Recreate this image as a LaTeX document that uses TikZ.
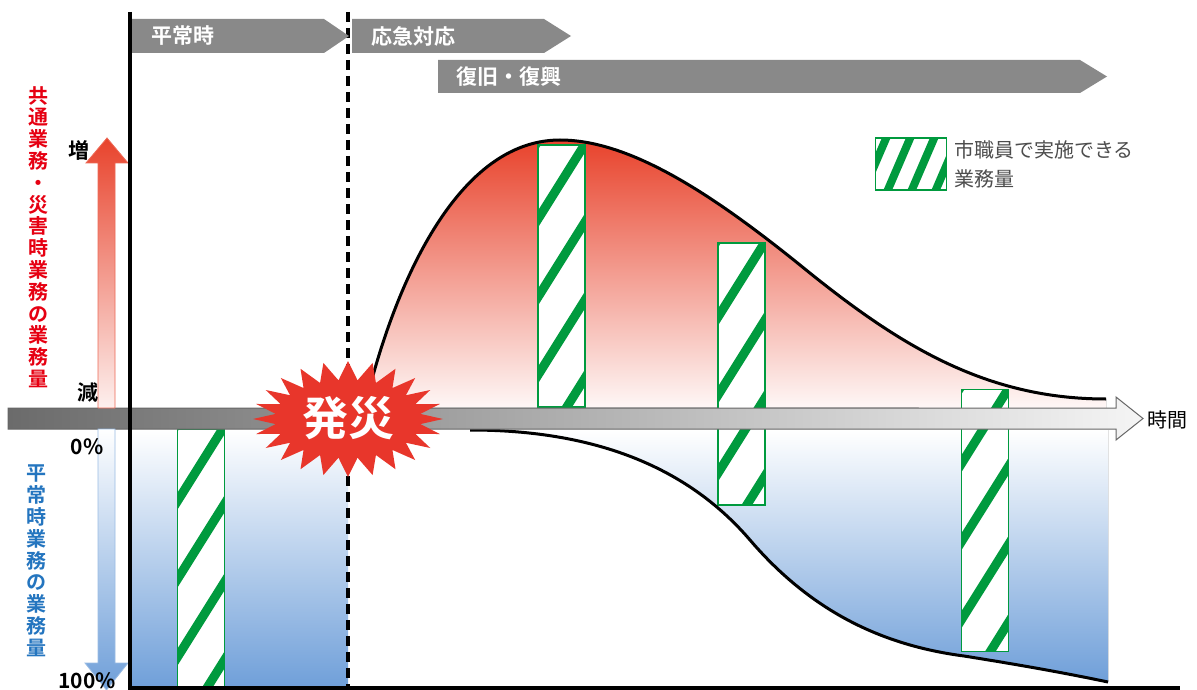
\documentclass[tikz,border=0pt]{standalone}
\usepackage{fontspec}
\setmainfont{Noto Sans CJK JP}[BoldFont={Noto Sans CJK JP Bold}]
\usepackage{tikz}
\usetikzlibrary{positioning}
\usetikzlibrary{calc}

\definecolor{bannergray}{HTML}{898989}
\definecolor{hatchgreen}{HTML}{009A3E}
\definecolor{burstred}{HTML}{E8362B}
\definecolor{curvered}{HTML}{E8432C}
\definecolor{midred}{HTML}{F0946F}
\definecolor{paleblue}{HTML}{6F9FD9}
\definecolor{labelred}{HTML}{E60012}
\definecolor{labelblue}{HTML}{2475BF}
\definecolor{axisgray}{HTML}{6B6B6B}
\definecolor{keygray}{HTML}{4D4D4D}

\begin{document}
\begin{tikzpicture}[x=1pt, y=-1pt,
			hatchbar/.style={draw=hatchgreen, line width=1.4pt, fill=white, inner sep=0pt, minimum width=47pt, minimum height=#1,
				path picture={\foreach \k in {-390,-312,...,312} \draw[hatchgreen, line width=9pt] ($(path picture bounding box.south west)+(-20pt,\k pt)$) -- ++(87pt,139pt);}},
			keybox/.style={draw=hatchgreen, line width=1.4pt, fill=white, inner sep=0pt, minimum width=71pt, minimum height=52pt,
				path picture={\foreach \k in {-40,-16,...,80} \draw[hatchgreen, line width=8pt] ($(path picture bounding box.south west)+(\k pt,-10pt)$) -- ++(31pt,72pt);}},
			bannertext/.style={anchor=west, inner sep=0pt, text=white, font=\bfseries\fontsize{21}{21}\selectfont},
			vlabel/.style={anchor=north, inner sep=0pt, align=center, font=\bfseries\fontsize{20}{21.8}\selectfont},
			scalelabel/.style={inner sep=0pt, font=\bfseries\fontsize{21}{21}\selectfont}
			]
			
			\useasboundingbox (0,0) rectangle (1197,690);
			\clip (0,0) rectangle (1197,690);
			\fill[white] (0,0) rectangle (1197,690);
			
			\coordinate (ytop) at (130,12);
			\coordinate (ybot) at (130,690);
			\coordinate (xend) at (1180,688);
			\coordinate (ontop) at (348,12);
			\coordinate (onbot) at (348,688);
			\coordinate (upstart) at (365,407);
			\coordinate (peak) at (560,140);
			\coordinate (upmid) at (800,265);
			\coordinate (upend) at (1106,399);
			\coordinate (lowstart) at (470,430);
			\coordinate (lowmid) at (750,540);
			\coordinate (lowknee) at (964,656);
			\coordinate (lowend) at (1108,682);
			
			\fill[top color=white, bottom color=paleblue] (130,430) rectangle (348,688);
			\fill[top color=white, bottom color=paleblue] (lowstart) .. controls (600,430) and (690,470) .. (lowmid) .. controls (810,610) and (880,645) .. (lowknee) .. controls (1020,665) and (1060,672) .. (lowend) -- (1108,430) -- cycle;
			\fill[top color=curvered, middle color=midred, bottom color=white!96!curvered] (upstart) .. controls (385,320) and (445,140) .. (peak) .. controls (630,140) and (712,194) .. (upmid) .. controls (898,345) and (985,399) .. (upend) -- (1106,408) -- cycle;
			
			\node[hatchbar=260pt] at (201,559) (bar1) {};
			\node[hatchbar=262pt] at (561.5,276) (bar2) {};
			\node[hatchbar=262pt] at (741.5,374) (bar3) {};
			\node[hatchbar=262pt] at (985,520.5) (bar4) {};
			
			\draw[line width=3pt] (upstart) .. controls (385,320) and (445,140) .. (peak) .. controls (630,140) and (712,194) .. (upmid) .. controls (898,345) and (985,399) .. (upend);
			\draw[line width=3pt] (lowstart) .. controls (600,430) and (690,470) .. (lowmid) .. controls (810,610) and (880,645) .. (lowknee) .. controls (1020,665) and (1060,672) .. (lowend);
			
			\draw[left color=axisgray, right color=white!96!black, draw=gray!80!black, line width=1pt] (8,408) -- (1116,408) -- (1116,397) -- (1143,418.5) -- (1116,440) -- (1116,429) -- (8,429) -- cycle;
			\node[anchor=west, inner sep=0pt, font=\fontsize{20}{20}\selectfont] at (1147,420) (time) {時間};
			
			\draw[top color=curvered, bottom color=white!92!curvered, draw=curvered!80, line width=0.8pt] (98,408) -- (98,163) -- (86,163) -- (107,138) -- (128,163) -- (115,163) -- (115,408) -- cycle;
			\draw[top color=white, bottom color=paleblue, draw=paleblue!70, line width=0.8pt] (98,429) -- (98,663) -- (85,663) -- (106.5,690) -- (128,663) -- (115,663) -- (115,429) -- cycle;
			
			\draw[line width=4pt] (ytop) -- (ybot);
			\draw[line width=4pt] (128,688) -- (xend);
			\draw[line width=3.5pt, dash pattern=on 10pt off 6pt] (ontop) -- (onbot);
			
			\fill[bannergray] (132,19) -- (324,19) -- (349,36) -- (324,53) -- (132,53) -- cycle;
			\fill[bannergray] (352,19) -- (544,19) -- (571,36) -- (544,53) -- (352,53) -- cycle;
			\fill[bannergray] (438,60) -- (1080,60) -- (1107,76.5) -- (1080,93) -- (438,93) -- cycle;
			\node[bannertext] at (151,36) (normal) {平常時};
			\node[bannertext] at (371,36) (urgent) {応急対応};
			\node[bannertext] at (456,76.5) (recovery) {復旧・復興};
			
			\begin{scope}[shift={(348,419)}]
				\fill[burstred] (0:95 and 58) \foreach \i [evaluate=\i as \rx using {mod(\i,2)==0 ? 95 : 73}, evaluate=\i as \ry using {mod(\i,2)==0 ? 58 : 39}] in {1,...,47} { -- ({\i*7.5}:{\rx} and {\ry}) } -- cycle;
			\end{scope}
			\node[inner sep=0pt, text=white, font=\bfseries\fontsize{46}{46}\selectfont] at (348,418) (disaster) {発災};
			
			\node[vlabel, text=labelred] at (38,86) (common) {共\\通\\業\\務\\・\\災\\害\\時\\業\\務\\の\\業\\務\\量};
			\node[vlabel, text=labelblue] at (37,465) (routine) {平\\常\\時\\業\\務\\の\\業\\務\\量};
			
			\node[scalelabel] at (79,150) (more) {増};
			\node[scalelabel] at (88,393) (less) {減};
			\node[scalelabel] at (87,447) (zero) {0\%};
			\node[scalelabel] at (87,681) (full) {100\%};
			
			\node[keybox] at (911,164) (key) {};
			\node[anchor=north west, inner sep=0pt, align=left, text=keygray, font=\fontsize{20}{29}\selectfont] at (954,140) (keylabel) {市職員で実施できる\\業務量};
		\end{tikzpicture}
\end{document}
